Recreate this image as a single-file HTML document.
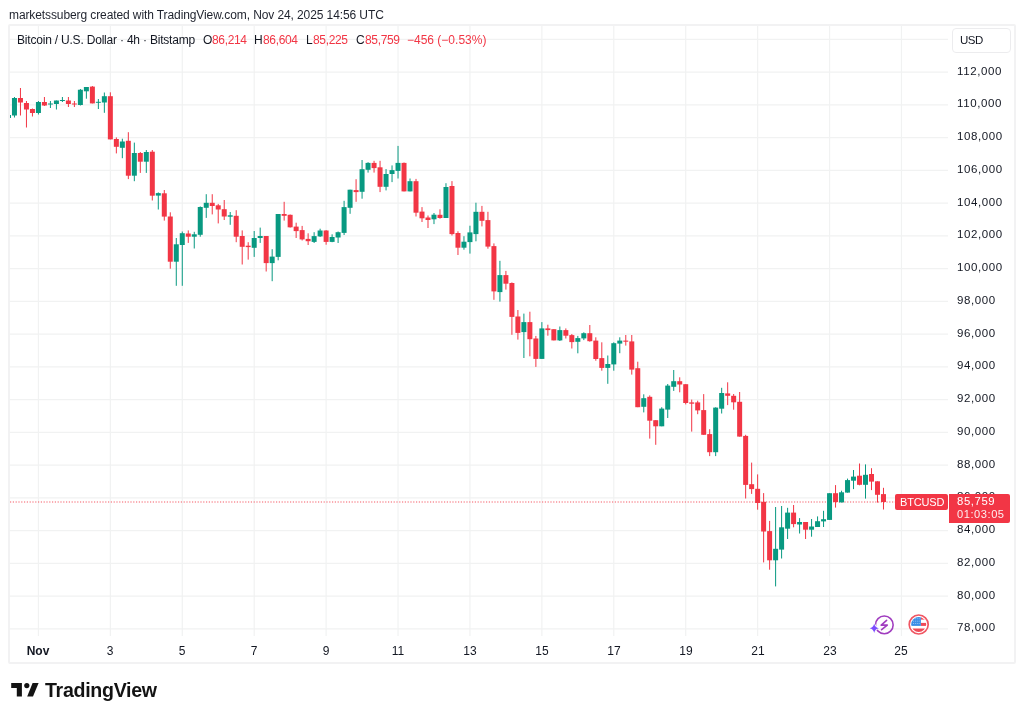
<!DOCTYPE html>
<html><head><meta charset="utf-8"><style>
html,body{margin:0;padding:0;background:#fff;}
body{width:1024px;height:718px;position:relative;overflow:hidden;font-family:"Liberation Sans",sans-serif;color:#131722;}
.t{position:absolute;white-space:nowrap;line-height:1;will-change:transform;}
.frame{position:absolute;left:8px;top:24px;width:1004px;height:636px;border:2px solid #f2f2f3;border-radius:2px;}
</style></head><body>

<div class="t" style="left:9px;top:8.5px;font-size:12px;letter-spacing:-0.1px;color:#1e222d">marketssuberg created with TradingView.com, Nov 24, 2025 14:56 UTC</div>
<div class="frame"></div>
<svg style="position:absolute;left:0;top:0" width="1024" height="718" viewBox="0 0 1024 718">
<line x1="9" y1="39.34" x2="948" y2="39.34" stroke="#f1f2f2" stroke-width="1.2"/>
<line x1="9" y1="72.09" x2="948" y2="72.09" stroke="#f1f2f2" stroke-width="1.2"/>
<line x1="9" y1="104.85" x2="948" y2="104.85" stroke="#f1f2f2" stroke-width="1.2"/>
<line x1="9" y1="137.6" x2="948" y2="137.6" stroke="#f1f2f2" stroke-width="1.2"/>
<line x1="9" y1="170.36" x2="948" y2="170.36" stroke="#f1f2f2" stroke-width="1.2"/>
<line x1="9" y1="203.11" x2="948" y2="203.11" stroke="#f1f2f2" stroke-width="1.2"/>
<line x1="9" y1="235.86" x2="948" y2="235.86" stroke="#f1f2f2" stroke-width="1.2"/>
<line x1="9" y1="268.62" x2="948" y2="268.62" stroke="#f1f2f2" stroke-width="1.2"/>
<line x1="9" y1="301.37" x2="948" y2="301.37" stroke="#f1f2f2" stroke-width="1.2"/>
<line x1="9" y1="334.13" x2="948" y2="334.13" stroke="#f1f2f2" stroke-width="1.2"/>
<line x1="9" y1="366.88" x2="948" y2="366.88" stroke="#f1f2f2" stroke-width="1.2"/>
<line x1="9" y1="399.63" x2="948" y2="399.63" stroke="#f1f2f2" stroke-width="1.2"/>
<line x1="9" y1="432.39" x2="948" y2="432.39" stroke="#f1f2f2" stroke-width="1.2"/>
<line x1="9" y1="465.14" x2="948" y2="465.14" stroke="#f1f2f2" stroke-width="1.2"/>
<line x1="9" y1="497.9" x2="948" y2="497.9" stroke="#f1f2f2" stroke-width="1.2"/>
<line x1="9" y1="530.65" x2="948" y2="530.65" stroke="#f1f2f2" stroke-width="1.2"/>
<line x1="9" y1="563.4" x2="948" y2="563.4" stroke="#f1f2f2" stroke-width="1.2"/>
<line x1="9" y1="596.16" x2="948" y2="596.16" stroke="#f1f2f2" stroke-width="1.2"/>
<line x1="9" y1="628.91" x2="948" y2="628.91" stroke="#f1f2f2" stroke-width="1.2"/>
<line x1="38.43" y1="26" x2="38.43" y2="636" stroke="#f1f2f2" stroke-width="1.2"/>
<line x1="110.35" y1="26" x2="110.35" y2="636" stroke="#f1f2f2" stroke-width="1.2"/>
<line x1="182.27" y1="26" x2="182.27" y2="636" stroke="#f1f2f2" stroke-width="1.2"/>
<line x1="254.19" y1="26" x2="254.19" y2="636" stroke="#f1f2f2" stroke-width="1.2"/>
<line x1="326.11" y1="26" x2="326.11" y2="636" stroke="#f1f2f2" stroke-width="1.2"/>
<line x1="398.03" y1="26" x2="398.03" y2="636" stroke="#f1f2f2" stroke-width="1.2"/>
<line x1="469.95" y1="26" x2="469.95" y2="636" stroke="#f1f2f2" stroke-width="1.2"/>
<line x1="541.87" y1="26" x2="541.87" y2="636" stroke="#f1f2f2" stroke-width="1.2"/>
<line x1="613.79" y1="26" x2="613.79" y2="636" stroke="#f1f2f2" stroke-width="1.2"/>
<line x1="685.71" y1="26" x2="685.71" y2="636" stroke="#f1f2f2" stroke-width="1.2"/>
<line x1="757.63" y1="26" x2="757.63" y2="636" stroke="#f1f2f2" stroke-width="1.2"/>
<line x1="829.55" y1="26" x2="829.55" y2="636" stroke="#f1f2f2" stroke-width="1.2"/>
<line x1="901.47" y1="26" x2="901.47" y2="636" stroke="#f1f2f2" stroke-width="1.2"/>
<line x1="10" y1="502" x2="895" y2="502" stroke="#f23645" stroke-width="1.6" stroke-opacity="0.55" stroke-dasharray="1.2 1.6"/>
<clipPath id="pc"><rect x="10" y="26" width="938" height="610"/></clipPath><g clip-path="url(#pc)">
<rect x="7.963500000000003" y="114.0" width="1" height="5.00" fill="#089981"/>
<rect x="5.963500000000003" y="115.0" width="5" height="3.00" fill="#089981"/>
<rect x="13.956800000000001" y="97.0" width="1" height="20.50" fill="#089981"/>
<rect x="11.956800000000001" y="98.0" width="5" height="17.50" fill="#089981"/>
<rect x="19.9501" y="88.0" width="1" height="27.50" fill="#f23645"/>
<rect x="17.9501" y="98.0" width="5" height="4.50" fill="#f23645"/>
<rect x="25.9434" y="101.0" width="1" height="26.50" fill="#f23645"/>
<rect x="23.9434" y="103.0" width="5" height="6.50" fill="#f23645"/>
<rect x="31.936700000000002" y="108.5" width="1" height="8.00" fill="#f23645"/>
<rect x="29.936700000000002" y="109.0" width="5" height="4.00" fill="#f23645"/>
<rect x="37.93" y="101.0" width="1" height="13.50" fill="#089981"/>
<rect x="35.93" y="102.0" width="5" height="11.00" fill="#089981"/>
<rect x="43.9233" y="97.0" width="1" height="9.00" fill="#f23645"/>
<rect x="41.9233" y="102.0" width="5" height="3.50" fill="#f23645"/>
<rect x="49.9166" y="101.0" width="1" height="7.00" fill="#089981"/>
<rect x="47.9166" y="103.5" width="5" height="1.00" fill="#089981"/>
<rect x="55.9099" y="100.5" width="1" height="9.00" fill="#089981"/>
<rect x="53.9099" y="100.5" width="5" height="3.50" fill="#089981"/>
<rect x="61.9032" y="97.0" width="1" height="5.00" fill="#089981"/>
<rect x="59.9032" y="100.0" width="5" height="1.00" fill="#089981"/>
<rect x="67.8965" y="97.0" width="1" height="10.00" fill="#f23645"/>
<rect x="65.8965" y="100.5" width="5" height="3.50" fill="#f23645"/>
<rect x="73.88980000000001" y="101.0" width="1" height="6.00" fill="#f23645"/>
<rect x="71.88980000000001" y="103.5" width="5" height="1.00" fill="#f23645"/>
<rect x="79.8831" y="89.0" width="1" height="16.50" fill="#089981"/>
<rect x="77.8831" y="89.75" width="5" height="15.25" fill="#089981"/>
<rect x="85.87639999999999" y="87.0" width="1" height="11.70" fill="#089981"/>
<rect x="83.87639999999999" y="87.0" width="5" height="4.30" fill="#089981"/>
<rect x="91.8697" y="86.0" width="1" height="17.40" fill="#f23645"/>
<rect x="89.8697" y="86.6" width="5" height="16.80" fill="#f23645"/>
<rect x="97.863" y="99.0" width="1" height="10.00" fill="#089981"/>
<rect x="95.863" y="101.8" width="5" height="1.00" fill="#089981"/>
<rect x="103.8563" y="92.5" width="1" height="20.30" fill="#089981"/>
<rect x="101.8563" y="96.2" width="5" height="6.30" fill="#089981"/>
<rect x="109.84960000000001" y="92.3" width="1" height="47.10" fill="#f23645"/>
<rect x="107.84960000000001" y="96.2" width="5" height="43.20" fill="#f23645"/>
<rect x="115.84289999999999" y="137.4" width="1" height="16.00" fill="#f23645"/>
<rect x="113.84289999999999" y="139.0" width="5" height="7.80" fill="#f23645"/>
<rect x="121.83619999999999" y="138.7" width="1" height="19.50" fill="#089981"/>
<rect x="119.83619999999999" y="141.5" width="5" height="6.30" fill="#089981"/>
<rect x="127.8295" y="132.2" width="1" height="46.90" fill="#f23645"/>
<rect x="125.8295" y="140.8" width="5" height="34.90" fill="#f23645"/>
<rect x="133.8228" y="142.6" width="1" height="38.60" fill="#089981"/>
<rect x="131.8228" y="153.0" width="5" height="22.70" fill="#089981"/>
<rect x="139.8161" y="152.0" width="1" height="20.90" fill="#f23645"/>
<rect x="137.8161" y="153.0" width="5" height="8.70" fill="#f23645"/>
<rect x="145.80939999999998" y="150.0" width="1" height="22.90" fill="#089981"/>
<rect x="143.80939999999998" y="152.0" width="5" height="9.70" fill="#089981"/>
<rect x="151.8027" y="150.0" width="1" height="50.50" fill="#f23645"/>
<rect x="149.8027" y="151.7" width="5" height="44.00" fill="#f23645"/>
<rect x="157.796" y="192.4" width="1" height="17.10" fill="#089981"/>
<rect x="155.796" y="193.1" width="5" height="2.50" fill="#089981"/>
<rect x="163.7893" y="190.0" width="1" height="30.60" fill="#f23645"/>
<rect x="161.7893" y="193.3" width="5" height="23.30" fill="#f23645"/>
<rect x="169.7826" y="212.3" width="1" height="56.40" fill="#f23645"/>
<rect x="167.7826" y="216.5" width="5" height="45.20" fill="#f23645"/>
<rect x="175.7759" y="238.0" width="1" height="47.80" fill="#089981"/>
<rect x="173.7759" y="244.3" width="5" height="17.40" fill="#089981"/>
<rect x="181.7692" y="231.5" width="1" height="54.30" fill="#089981"/>
<rect x="179.7692" y="233.2" width="5" height="11.80" fill="#089981"/>
<rect x="187.7625" y="230.4" width="1" height="12.50" fill="#f23645"/>
<rect x="185.7625" y="233.5" width="5" height="3.20" fill="#f23645"/>
<rect x="193.7558" y="231.8" width="1" height="16.70" fill="#089981"/>
<rect x="191.7558" y="234.3" width="5" height="2.40" fill="#089981"/>
<rect x="199.7491" y="206.4" width="1" height="30.30" fill="#089981"/>
<rect x="197.7491" y="207.0" width="5" height="27.80" fill="#089981"/>
<rect x="205.7424" y="194.2" width="1" height="23.70" fill="#089981"/>
<rect x="203.7424" y="202.8" width="5" height="5.00" fill="#089981"/>
<rect x="211.7357" y="194.2" width="1" height="20.20" fill="#f23645"/>
<rect x="209.7357" y="202.8" width="5" height="3.20" fill="#f23645"/>
<rect x="217.72899999999998" y="203.9" width="1" height="19.50" fill="#f23645"/>
<rect x="215.72899999999998" y="205.3" width="5" height="4.20" fill="#f23645"/>
<rect x="223.7223" y="200.0" width="1" height="20.00" fill="#f23645"/>
<rect x="221.7223" y="209.2" width="5" height="7.30" fill="#f23645"/>
<rect x="229.7156" y="212.0" width="1" height="12.80" fill="#089981"/>
<rect x="227.7156" y="215.3" width="5" height="1.40" fill="#089981"/>
<rect x="235.7089" y="210.2" width="1" height="32.00" fill="#f23645"/>
<rect x="233.7089" y="215.8" width="5" height="20.90" fill="#f23645"/>
<rect x="241.7022" y="230.4" width="1" height="34.10" fill="#f23645"/>
<rect x="239.7022" y="236.0" width="5" height="10.80" fill="#f23645"/>
<rect x="247.69549999999998" y="242.2" width="1" height="17.40" fill="#f23645"/>
<rect x="245.69549999999998" y="245.7" width="5" height="1.40" fill="#f23645"/>
<rect x="253.6888" y="231.0" width="1" height="25.90" fill="#089981"/>
<rect x="251.6888" y="238.0" width="5" height="9.80" fill="#089981"/>
<rect x="259.6821" y="227.6" width="1" height="15.30" fill="#089981"/>
<rect x="257.6821" y="236.0" width="5" height="2.00" fill="#089981"/>
<rect x="265.67539999999997" y="236.0" width="1" height="35.50" fill="#f23645"/>
<rect x="263.67539999999997" y="236.0" width="5" height="27.10" fill="#f23645"/>
<rect x="271.6687" y="249.2" width="1" height="32.00" fill="#089981"/>
<rect x="269.6687" y="256.6" width="5" height="6.50" fill="#089981"/>
<rect x="277.662" y="214.0" width="1" height="46.30" fill="#089981"/>
<rect x="275.662" y="214.0" width="5" height="42.90" fill="#089981"/>
<rect x="283.65529999999995" y="201.8" width="1" height="18.80" fill="#f23645"/>
<rect x="281.65529999999995" y="214.0" width="5" height="1.80" fill="#f23645"/>
<rect x="289.6486" y="214.5" width="1" height="13.10" fill="#f23645"/>
<rect x="287.6486" y="214.8" width="5" height="12.50" fill="#f23645"/>
<rect x="295.64189999999996" y="222.7" width="1" height="15.30" fill="#f23645"/>
<rect x="293.64189999999996" y="226.6" width="5" height="4.50" fill="#f23645"/>
<rect x="301.6352" y="225.9" width="1" height="14.60" fill="#f23645"/>
<rect x="299.6352" y="230.1" width="5" height="9.30" fill="#f23645"/>
<rect x="307.6285" y="233.3" width="1" height="11.70" fill="#f23645"/>
<rect x="305.6285" y="238.9" width="5" height="2.30" fill="#f23645"/>
<rect x="313.6218" y="232.2" width="1" height="10.80" fill="#089981"/>
<rect x="311.6218" y="236.1" width="5" height="5.80" fill="#089981"/>
<rect x="319.6151" y="228.7" width="1" height="8.30" fill="#089981"/>
<rect x="317.6151" y="230.5" width="5" height="5.90" fill="#089981"/>
<rect x="325.6084" y="230.1" width="1" height="14.60" fill="#f23645"/>
<rect x="323.6084" y="230.5" width="5" height="11.40" fill="#f23645"/>
<rect x="331.6017" y="234.3" width="1" height="7.90" fill="#089981"/>
<rect x="329.6017" y="237.0" width="5" height="4.90" fill="#089981"/>
<rect x="337.59499999999997" y="231.5" width="1" height="11.50" fill="#089981"/>
<rect x="335.59499999999997" y="232.2" width="5" height="5.30" fill="#089981"/>
<rect x="343.5883" y="200.8" width="1" height="34.20" fill="#089981"/>
<rect x="341.5883" y="207.1" width="5" height="25.80" fill="#089981"/>
<rect x="349.5816" y="189.7" width="1" height="24.10" fill="#089981"/>
<rect x="347.5816" y="189.7" width="5" height="18.10" fill="#089981"/>
<rect x="355.5749" y="179.2" width="1" height="22.60" fill="#f23645"/>
<rect x="353.5749" y="190.1" width="5" height="2.00" fill="#f23645"/>
<rect x="361.5682" y="160.0" width="1" height="38.70" fill="#089981"/>
<rect x="359.5682" y="169.2" width="5" height="22.60" fill="#089981"/>
<rect x="367.56149999999997" y="162.2" width="1" height="10.40" fill="#089981"/>
<rect x="365.56149999999997" y="162.9" width="5" height="6.90" fill="#089981"/>
<rect x="373.5548" y="160.8" width="1" height="11.80" fill="#f23645"/>
<rect x="371.5548" y="162.9" width="5" height="5.20" fill="#f23645"/>
<rect x="379.5481" y="160.8" width="1" height="31.30" fill="#f23645"/>
<rect x="377.5481" y="167.3" width="5" height="19.50" fill="#f23645"/>
<rect x="385.5414" y="169.1" width="1" height="21.30" fill="#089981"/>
<rect x="383.5414" y="174.0" width="5" height="12.80" fill="#089981"/>
<rect x="391.5347" y="165.4" width="1" height="16.70" fill="#089981"/>
<rect x="389.5347" y="170.1" width="5" height="3.90" fill="#089981"/>
<rect x="397.52799999999996" y="145.9" width="1" height="32.60" fill="#089981"/>
<rect x="395.52799999999996" y="162.9" width="5" height="8.00" fill="#089981"/>
<rect x="403.5213" y="162.5" width="1" height="28.90" fill="#f23645"/>
<rect x="401.5213" y="162.9" width="5" height="28.50" fill="#f23645"/>
<rect x="409.5146" y="178.5" width="1" height="12.90" fill="#089981"/>
<rect x="407.5146" y="181.2" width="5" height="10.20" fill="#089981"/>
<rect x="415.5079" y="178.9" width="1" height="37.60" fill="#f23645"/>
<rect x="413.5079" y="181.2" width="5" height="31.50" fill="#f23645"/>
<rect x="421.5012" y="207.1" width="1" height="14.90" fill="#f23645"/>
<rect x="419.5012" y="211.6" width="5" height="6.70" fill="#f23645"/>
<rect x="427.49449999999996" y="215.5" width="1" height="12.50" fill="#f23645"/>
<rect x="425.49449999999996" y="217.5" width="5" height="2.50" fill="#f23645"/>
<rect x="433.4878" y="213.0" width="1" height="11.10" fill="#089981"/>
<rect x="431.4878" y="214.7" width="5" height="4.60" fill="#089981"/>
<rect x="439.48109999999997" y="209.3" width="1" height="9.40" fill="#f23645"/>
<rect x="437.48109999999997" y="214.8" width="5" height="3.20" fill="#f23645"/>
<rect x="445.4744" y="183.2" width="1" height="34.80" fill="#089981"/>
<rect x="443.4744" y="187.0" width="5" height="31.00" fill="#089981"/>
<rect x="451.4677" y="181.1" width="1" height="54.40" fill="#f23645"/>
<rect x="449.4677" y="186.0" width="5" height="48.10" fill="#f23645"/>
<rect x="457.46099999999996" y="231.3" width="1" height="23.70" fill="#f23645"/>
<rect x="455.46099999999996" y="233.0" width="5" height="14.70" fill="#f23645"/>
<rect x="463.4543" y="236.2" width="1" height="13.50" fill="#089981"/>
<rect x="461.4543" y="241.7" width="5" height="6.00" fill="#089981"/>
<rect x="469.44759999999997" y="225.7" width="1" height="27.90" fill="#089981"/>
<rect x="467.44759999999997" y="232.4" width="5" height="9.70" fill="#089981"/>
<rect x="475.4409" y="202.7" width="1" height="38.60" fill="#089981"/>
<rect x="473.4409" y="211.8" width="5" height="22.30" fill="#089981"/>
<rect x="481.4342" y="205.9" width="1" height="20.50" fill="#f23645"/>
<rect x="479.4342" y="211.8" width="5" height="9.00" fill="#f23645"/>
<rect x="487.42749999999995" y="211.8" width="1" height="36.90" fill="#f23645"/>
<rect x="485.42749999999995" y="220.1" width="5" height="26.50" fill="#f23645"/>
<rect x="493.4208" y="243.4" width="1" height="56.40" fill="#f23645"/>
<rect x="491.4208" y="246.1" width="5" height="45.30" fill="#f23645"/>
<rect x="499.41409999999996" y="260.8" width="1" height="40.80" fill="#089981"/>
<rect x="497.41409999999996" y="275.1" width="5" height="17.00" fill="#089981"/>
<rect x="505.4074" y="270.9" width="1" height="18.70" fill="#f23645"/>
<rect x="503.4074" y="275.1" width="5" height="8.60" fill="#f23645"/>
<rect x="511.4007" y="282.4" width="1" height="52.40" fill="#f23645"/>
<rect x="509.4007" y="283.0" width="5" height="33.90" fill="#f23645"/>
<rect x="517.3939999999999" y="310.0" width="1" height="29.60" fill="#f23645"/>
<rect x="515.3939999999999" y="316.5" width="5" height="16.40" fill="#f23645"/>
<rect x="523.3873" y="313.6" width="1" height="44.40" fill="#089981"/>
<rect x="521.3873" y="322.1" width="5" height="10.00" fill="#089981"/>
<rect x="529.3806" y="311.7" width="1" height="44.60" fill="#f23645"/>
<rect x="527.3806" y="322.1" width="5" height="17.10" fill="#f23645"/>
<rect x="535.3738999999999" y="335.9" width="1" height="31.00" fill="#f23645"/>
<rect x="533.3738999999999" y="338.5" width="5" height="20.40" fill="#f23645"/>
<rect x="541.3671999999999" y="322.1" width="1" height="36.80" fill="#089981"/>
<rect x="539.3671999999999" y="328.4" width="5" height="30.50" fill="#089981"/>
<rect x="547.3605" y="324.7" width="1" height="11.00" fill="#f23645"/>
<rect x="545.3605" y="328.4" width="5" height="1.70" fill="#f23645"/>
<rect x="553.3537999999999" y="329.2" width="1" height="11.20" fill="#f23645"/>
<rect x="551.3537999999999" y="329.2" width="5" height="11.20" fill="#f23645"/>
<rect x="559.3471" y="326.5" width="1" height="14.50" fill="#089981"/>
<rect x="557.3471" y="330.1" width="5" height="10.30" fill="#089981"/>
<rect x="565.3403999999999" y="328.4" width="1" height="10.10" fill="#f23645"/>
<rect x="563.3403999999999" y="330.1" width="5" height="5.60" fill="#f23645"/>
<rect x="571.3336999999999" y="334.0" width="1" height="14.50" fill="#f23645"/>
<rect x="569.3336999999999" y="335.1" width="5" height="7.00" fill="#f23645"/>
<rect x="577.3269999999999" y="335.9" width="1" height="17.40" fill="#089981"/>
<rect x="575.3269999999999" y="338.1" width="5" height="3.70" fill="#089981"/>
<rect x="583.3202999999999" y="332.3" width="1" height="7.80" fill="#089981"/>
<rect x="581.3202999999999" y="333.2" width="5" height="5.20" fill="#089981"/>
<rect x="589.3136" y="325.0" width="1" height="16.70" fill="#f23645"/>
<rect x="587.3136" y="333.2" width="5" height="8.00" fill="#f23645"/>
<rect x="595.3068999999999" y="337.3" width="1" height="23.40" fill="#f23645"/>
<rect x="593.3068999999999" y="340.6" width="5" height="18.40" fill="#f23645"/>
<rect x="601.3001999999999" y="342.3" width="1" height="28.40" fill="#f23645"/>
<rect x="599.3001999999999" y="358.1" width="5" height="9.80" fill="#f23645"/>
<rect x="607.2934999999999" y="355.5" width="1" height="28.30" fill="#089981"/>
<rect x="605.2934999999999" y="364.0" width="5" height="3.90" fill="#089981"/>
<rect x="613.2868" y="342.3" width="1" height="28.40" fill="#089981"/>
<rect x="611.2868" y="343.2" width="5" height="21.20" fill="#089981"/>
<rect x="619.2801" y="337.3" width="1" height="15.90" fill="#089981"/>
<rect x="617.2801" y="340.6" width="5" height="3.00" fill="#089981"/>
<rect x="625.2733999999999" y="335.0" width="1" height="10.60" fill="#f23645"/>
<rect x="623.2733999999999" y="340.6" width="5" height="1.10" fill="#f23645"/>
<rect x="631.2666999999999" y="335.0" width="1" height="39.60" fill="#f23645"/>
<rect x="629.2666999999999" y="341.4" width="5" height="28.20" fill="#f23645"/>
<rect x="637.2599999999999" y="361.7" width="1" height="45.50" fill="#f23645"/>
<rect x="635.2599999999999" y="368.2" width="5" height="39.00" fill="#f23645"/>
<rect x="643.2533" y="394.3" width="1" height="18.10" fill="#089981"/>
<rect x="641.2533" y="398.2" width="5" height="8.60" fill="#089981"/>
<rect x="649.2466" y="395.4" width="1" height="43.20" fill="#f23645"/>
<rect x="647.2466" y="396.8" width="5" height="23.90" fill="#f23645"/>
<rect x="655.2398999999999" y="420.2" width="1" height="24.60" fill="#f23645"/>
<rect x="653.2398999999999" y="420.2" width="5" height="6.10" fill="#f23645"/>
<rect x="661.2331999999999" y="407.2" width="1" height="19.10" fill="#089981"/>
<rect x="659.2331999999999" y="408.6" width="5" height="17.70" fill="#089981"/>
<rect x="667.2264999999999" y="384.0" width="1" height="34.00" fill="#089981"/>
<rect x="665.2264999999999" y="385.6" width="5" height="24.00" fill="#089981"/>
<rect x="673.2198" y="370.0" width="1" height="20.90" fill="#089981"/>
<rect x="671.2198" y="381.2" width="5" height="5.60" fill="#089981"/>
<rect x="679.2130999999999" y="377.3" width="1" height="15.00" fill="#f23645"/>
<rect x="677.2130999999999" y="381.2" width="5" height="3.30" fill="#f23645"/>
<rect x="685.2063999999999" y="384.2" width="1" height="20.20" fill="#f23645"/>
<rect x="683.2063999999999" y="384.2" width="5" height="18.80" fill="#f23645"/>
<rect x="691.1996999999999" y="399.6" width="1" height="32.00" fill="#f23645"/>
<rect x="689.1996999999999" y="402.4" width="5" height="1.30" fill="#f23645"/>
<rect x="697.1929999999999" y="400.7" width="1" height="13.50" fill="#f23645"/>
<rect x="695.1929999999999" y="402.4" width="5" height="8.00" fill="#f23645"/>
<rect x="703.1863" y="394.1" width="1" height="40.70" fill="#f23645"/>
<rect x="701.1863" y="410.1" width="5" height="24.70" fill="#f23645"/>
<rect x="709.1795999999999" y="429.2" width="1" height="26.90" fill="#f23645"/>
<rect x="707.1795999999999" y="434.1" width="5" height="18.10" fill="#f23645"/>
<rect x="715.1728999999999" y="407.3" width="1" height="48.80" fill="#089981"/>
<rect x="713.1728999999999" y="407.6" width="5" height="44.60" fill="#089981"/>
<rect x="721.1661999999999" y="387.8" width="1" height="25.70" fill="#089981"/>
<rect x="719.1661999999999" y="393.0" width="5" height="15.70" fill="#089981"/>
<rect x="727.1594999999999" y="382.3" width="1" height="22.80" fill="#f23645"/>
<rect x="725.1594999999999" y="393.4" width="5" height="2.40" fill="#f23645"/>
<rect x="733.1528" y="394.0" width="1" height="15.70" fill="#f23645"/>
<rect x="731.1528" y="395.8" width="5" height="6.50" fill="#f23645"/>
<rect x="739.1460999999999" y="392.0" width="1" height="44.60" fill="#f23645"/>
<rect x="737.1460999999999" y="401.8" width="5" height="34.80" fill="#f23645"/>
<rect x="745.1393999999999" y="434.8" width="1" height="63.70" fill="#f23645"/>
<rect x="743.1393999999999" y="435.9" width="5" height="49.00" fill="#f23645"/>
<rect x="751.1326999999999" y="462.6" width="1" height="31.30" fill="#f23645"/>
<rect x="749.1326999999999" y="484.2" width="5" height="4.90" fill="#f23645"/>
<rect x="757.1259999999999" y="474.4" width="1" height="35.30" fill="#f23645"/>
<rect x="755.1259999999999" y="488.8" width="5" height="14.20" fill="#f23645"/>
<rect x="763.1193" y="493.1" width="1" height="69.30" fill="#f23645"/>
<rect x="761.1193" y="501.8" width="5" height="29.70" fill="#f23645"/>
<rect x="769.1125999999999" y="520.9" width="1" height="48.80" fill="#f23645"/>
<rect x="767.1125999999999" y="531.1" width="5" height="29.20" fill="#f23645"/>
<rect x="775.1058999999999" y="507.0" width="1" height="79.40" fill="#089981"/>
<rect x="773.1058999999999" y="548.8" width="5" height="11.50" fill="#089981"/>
<rect x="781.0991999999999" y="506.0" width="1" height="52.50" fill="#089981"/>
<rect x="779.0991999999999" y="527.3" width="5" height="22.30" fill="#089981"/>
<rect x="787.0924999999999" y="507.8" width="1" height="31.20" fill="#089981"/>
<rect x="785.0924999999999" y="512.6" width="5" height="16.10" fill="#089981"/>
<rect x="793.0858" y="505.0" width="1" height="22.30" fill="#f23645"/>
<rect x="791.0858" y="512.6" width="5" height="11.50" fill="#f23645"/>
<rect x="799.0790999999999" y="518.1" width="1" height="15.40" fill="#089981"/>
<rect x="797.0790999999999" y="522.0" width="5" height="2.50" fill="#089981"/>
<rect x="805.0723999999999" y="522.0" width="1" height="17.00" fill="#f23645"/>
<rect x="803.0723999999999" y="522.0" width="5" height="7.70" fill="#f23645"/>
<rect x="811.0656999999999" y="519.0" width="1" height="17.70" fill="#089981"/>
<rect x="809.0656999999999" y="526.5" width="5" height="3.20" fill="#089981"/>
<rect x="817.0589999999999" y="516.4" width="1" height="10.60" fill="#089981"/>
<rect x="815.0589999999999" y="521.2" width="5" height="5.80" fill="#089981"/>
<rect x="823.0523" y="510.8" width="1" height="16.20" fill="#089981"/>
<rect x="821.0523" y="519.2" width="5" height="2.20" fill="#089981"/>
<rect x="829.0455999999999" y="493.2" width="1" height="26.70" fill="#089981"/>
<rect x="827.0455999999999" y="493.2" width="5" height="26.70" fill="#089981"/>
<rect x="835.0388999999999" y="485.1" width="1" height="22.50" fill="#f23645"/>
<rect x="833.0388999999999" y="493.2" width="5" height="8.80" fill="#f23645"/>
<rect x="841.0321999999999" y="490.7" width="1" height="11.70" fill="#089981"/>
<rect x="839.0321999999999" y="492.3" width="5" height="10.10" fill="#089981"/>
<rect x="847.0254999999999" y="478.6" width="1" height="14.00" fill="#089981"/>
<rect x="845.0254999999999" y="480.1" width="5" height="12.50" fill="#089981"/>
<rect x="853.0187999999999" y="470.0" width="1" height="19.10" fill="#089981"/>
<rect x="851.0187999999999" y="476.6" width="5" height="4.10" fill="#089981"/>
<rect x="859.0120999999999" y="463.5" width="1" height="21.80" fill="#f23645"/>
<rect x="857.0120999999999" y="475.7" width="5" height="9.10" fill="#f23645"/>
<rect x="865.0053999999999" y="464.4" width="1" height="34.20" fill="#089981"/>
<rect x="863.0053999999999" y="474.8" width="5" height="10.00" fill="#089981"/>
<rect x="870.9986999999999" y="468.2" width="1" height="21.90" fill="#f23645"/>
<rect x="868.9986999999999" y="474.0" width="5" height="7.60" fill="#f23645"/>
<rect x="876.9919999999998" y="481.3" width="1" height="21.30" fill="#f23645"/>
<rect x="874.9919999999998" y="481.3" width="5" height="13.50" fill="#f23645"/>
<rect x="882.9852999999999" y="487.8" width="1" height="21.70" fill="#f23645"/>
<rect x="880.9852999999999" y="494.1" width="5" height="7.90" fill="#f23645"/>
</g>
</svg>
<div class="t" style="left:17px;top:33.5px;font-size:12px;letter-spacing:-0.2px;color:#131722">Bitcoin / U.S. Dollar · 4h · Bitstamp</div>
<div class="t" style="left:203px;top:33.5px;font-size:12px;letter-spacing:0;color:#131722">O</div>
<div class="t" style="left:211.8px;top:33.5px;font-size:12px;letter-spacing:-0.35px;color:#f23645">86,214</div>
<div class="t" style="left:254px;top:33.5px;font-size:12px;letter-spacing:0;color:#131722">H</div>
<div class="t" style="left:262.5px;top:33.5px;font-size:12px;letter-spacing:-0.35px;color:#f23645">86,604</div>
<div class="t" style="left:305.8px;top:33.5px;font-size:12px;letter-spacing:0;color:#131722">L</div>
<div class="t" style="left:312.8px;top:33.5px;font-size:12px;letter-spacing:-0.35px;color:#f23645">85,225</div>
<div class="t" style="left:355.7px;top:33.5px;font-size:12px;letter-spacing:0;color:#131722">C</div>
<div class="t" style="left:364.6px;top:33.5px;font-size:12px;letter-spacing:-0.35px;color:#f23645">85,759</div>
<div class="t" style="left:407px;top:33.5px;font-size:12px;letter-spacing:0;color:#f23645">−456 (−0.53%)</div>
<div style="position:absolute;left:951.5px;top:28.3px;width:59.8px;height:24.3px;border:1.5px solid #ececee;border-radius:4px;box-sizing:border-box"></div>
<div class="t" style="left:960px;top:35px;font-size:11.5px;letter-spacing:-0.5px;color:#131722">USD</div>
<div class="t" style="left:957.2px;top:65.54px;font-size:11.5px;letter-spacing:0.6px;color:#131722">112,000</div>
<div class="t" style="left:957.2px;top:98.29px;font-size:11.5px;letter-spacing:0.6px;color:#131722">110,000</div>
<div class="t" style="left:957.2px;top:131.05px;font-size:11.5px;letter-spacing:0.6px;color:#131722">108,000</div>
<div class="t" style="left:957.2px;top:163.80px;font-size:11.5px;letter-spacing:0.6px;color:#131722">106,000</div>
<div class="t" style="left:957.2px;top:196.56px;font-size:11.5px;letter-spacing:0.6px;color:#131722">104,000</div>
<div class="t" style="left:957.2px;top:229.31px;font-size:11.5px;letter-spacing:0.6px;color:#131722">102,000</div>
<div class="t" style="left:957.2px;top:262.06px;font-size:11.5px;letter-spacing:0.6px;color:#131722">100,000</div>
<div class="t" style="left:957.2px;top:294.82px;font-size:11.5px;letter-spacing:0.6px;color:#131722">98,000</div>
<div class="t" style="left:957.2px;top:327.57px;font-size:11.5px;letter-spacing:0.6px;color:#131722">96,000</div>
<div class="t" style="left:957.2px;top:360.33px;font-size:11.5px;letter-spacing:0.6px;color:#131722">94,000</div>
<div class="t" style="left:957.2px;top:393.08px;font-size:11.5px;letter-spacing:0.6px;color:#131722">92,000</div>
<div class="t" style="left:957.2px;top:425.83px;font-size:11.5px;letter-spacing:0.6px;color:#131722">90,000</div>
<div class="t" style="left:957.2px;top:458.59px;font-size:11.5px;letter-spacing:0.6px;color:#131722">88,000</div>
<div class="t" style="left:957.2px;top:491.34px;font-size:11.5px;letter-spacing:0.6px;color:#131722">86,000</div>
<div class="t" style="left:957.2px;top:524.10px;font-size:11.5px;letter-spacing:0.6px;color:#131722">84,000</div>
<div class="t" style="left:957.2px;top:556.85px;font-size:11.5px;letter-spacing:0.6px;color:#131722">82,000</div>
<div class="t" style="left:957.2px;top:589.60px;font-size:11.5px;letter-spacing:0.6px;color:#131722">80,000</div>
<div class="t" style="left:957.2px;top:622.36px;font-size:11.5px;letter-spacing:0.6px;color:#131722">78,000</div>
<div class="t" style="left:-1.5700000000000003px;width:80px;text-align:center;top:645px;font-size:12px;font-weight:bold;color:#131722">Nov</div>
<div class="t" style="left:70.35px;width:80px;text-align:center;top:645px;font-size:12px;font-weight:normal;color:#131722">3</div>
<div class="t" style="left:142.27px;width:80px;text-align:center;top:645px;font-size:12px;font-weight:normal;color:#131722">5</div>
<div class="t" style="left:214.19px;width:80px;text-align:center;top:645px;font-size:12px;font-weight:normal;color:#131722">7</div>
<div class="t" style="left:286.11px;width:80px;text-align:center;top:645px;font-size:12px;font-weight:normal;color:#131722">9</div>
<div class="t" style="left:358.03000000000003px;width:80px;text-align:center;top:645px;font-size:12px;font-weight:normal;color:#131722">11</div>
<div class="t" style="left:429.95px;width:80px;text-align:center;top:645px;font-size:12px;font-weight:normal;color:#131722">13</div>
<div class="t" style="left:501.87px;width:80px;text-align:center;top:645px;font-size:12px;font-weight:normal;color:#131722">15</div>
<div class="t" style="left:573.79px;width:80px;text-align:center;top:645px;font-size:12px;font-weight:normal;color:#131722">17</div>
<div class="t" style="left:645.7099999999999px;width:80px;text-align:center;top:645px;font-size:12px;font-weight:normal;color:#131722">19</div>
<div class="t" style="left:717.63px;width:80px;text-align:center;top:645px;font-size:12px;font-weight:normal;color:#131722">21</div>
<div class="t" style="left:789.55px;width:80px;text-align:center;top:645px;font-size:12px;font-weight:normal;color:#131722">23</div>
<div class="t" style="left:861.4699999999999px;width:80px;text-align:center;top:645px;font-size:12px;font-weight:normal;color:#131722">25</div>
<div style="position:absolute;left:895px;top:494px;width:53px;height:16px;background:#f23645;border-radius:2px"></div>
<div class="t" style="left:899.5px;top:497px;font-size:11px;letter-spacing:-0.15px;color:#fff">BTCUSD</div>
<div style="position:absolute;left:949px;top:494px;width:61px;height:29px;background:#f23645;border-radius:0 2px 2px 0"></div>
<div class="t" style="left:956.6px;top:495.6px;font-size:11.3px;letter-spacing:0.6px;color:#fff">85,759</div>
<div class="t" style="left:956.6px;top:508.8px;font-size:11.1px;letter-spacing:0.55px;color:#fdeef0">01:03:05</div>
<svg style="position:absolute;left:864px;top:608px" width="72" height="36" viewBox="864 608 72 36">
<circle cx="884.3" cy="624.9" r="8.85" fill="none" stroke="#a03cbf" stroke-width="1.55"/>
<path d="M886.6 620.4 L881.2 625.1 L887.3 625.1 L881.6 629.7" fill="none" stroke="#a03cbf" stroke-width="1.6" stroke-linejoin="round" stroke-linecap="round"/>
<path d="M874.2 623.4 Q874.9 627.5 879 628.2 Q874.9 628.9 874.2 633 Q873.5 628.9 869.4 628.2 Q873.5 627.5 874.2 623.4 Z" fill="#7b4dff" stroke="#fff" stroke-width="1.6" stroke-linejoin="round" paint-order="stroke"/>
<circle cx="918.7" cy="624.5" r="9.5" fill="#fff" stroke="#f05663" stroke-width="1.7"/>
<clipPath id="fc"><circle cx="918.7" cy="624.5" r="7.5"/></clipPath>
<g clip-path="url(#fc)">
<rect x="910" y="616" width="18" height="18" fill="#fff"/>
<rect x="910" y="616" width="10.9" height="9.9" fill="#3a8ee6"/>
<rect x="913.0" y="618.3" width="0.9" height="0.9" fill="#fff" opacity="0.55"/><rect x="913.0" y="620.7" width="0.9" height="0.9" fill="#fff" opacity="0.55"/><rect x="913.0" y="623.1" width="0.9" height="0.9" fill="#fff" opacity="0.55"/><rect x="914.9" y="618.3" width="0.9" height="0.9" fill="#fff" opacity="0.55"/><rect x="914.9" y="620.7" width="0.9" height="0.9" fill="#fff" opacity="0.55"/><rect x="914.9" y="623.1" width="0.9" height="0.9" fill="#fff" opacity="0.55"/><rect x="916.8" y="618.3" width="0.9" height="0.9" fill="#fff" opacity="0.55"/><rect x="916.8" y="620.7" width="0.9" height="0.9" fill="#fff" opacity="0.55"/><rect x="916.8" y="623.1" width="0.9" height="0.9" fill="#fff" opacity="0.55"/><rect x="918.7" y="618.3" width="0.9" height="0.9" fill="#fff" opacity="0.55"/><rect x="918.7" y="620.7" width="0.9" height="0.9" fill="#fff" opacity="0.55"/><rect x="918.7" y="623.1" width="0.9" height="0.9" fill="#fff" opacity="0.55"/>
<rect x="921" y="616" width="8" height="3.6" fill="#ef4a57"/>
<rect x="921" y="622.9" width="8" height="3" fill="#ef4a57"/>
<rect x="910" y="628.5" width="18" height="6" fill="#ef4a57"/>
</g>
</svg>
<svg style="position:absolute;left:0;top:670px" width="48" height="40" viewBox="0 670 48 40">
<path d="M11.2 683.1 H21.9 V696.5 H16.8 V687.9 H11.2 Z" fill="#131313"/>
<circle cx="26.8" cy="685.6" r="2.6" fill="#131313"/>
<path d="M32.6 683.1 H38.6 L33 696.5 H27.2 Z" fill="#131313"/>
</svg>
<div class="t" style="left:45px;top:680.5px;font-size:19.6px;font-weight:bold;letter-spacing:-0.3px;color:#131313">TradingView</div>
</body></html>
